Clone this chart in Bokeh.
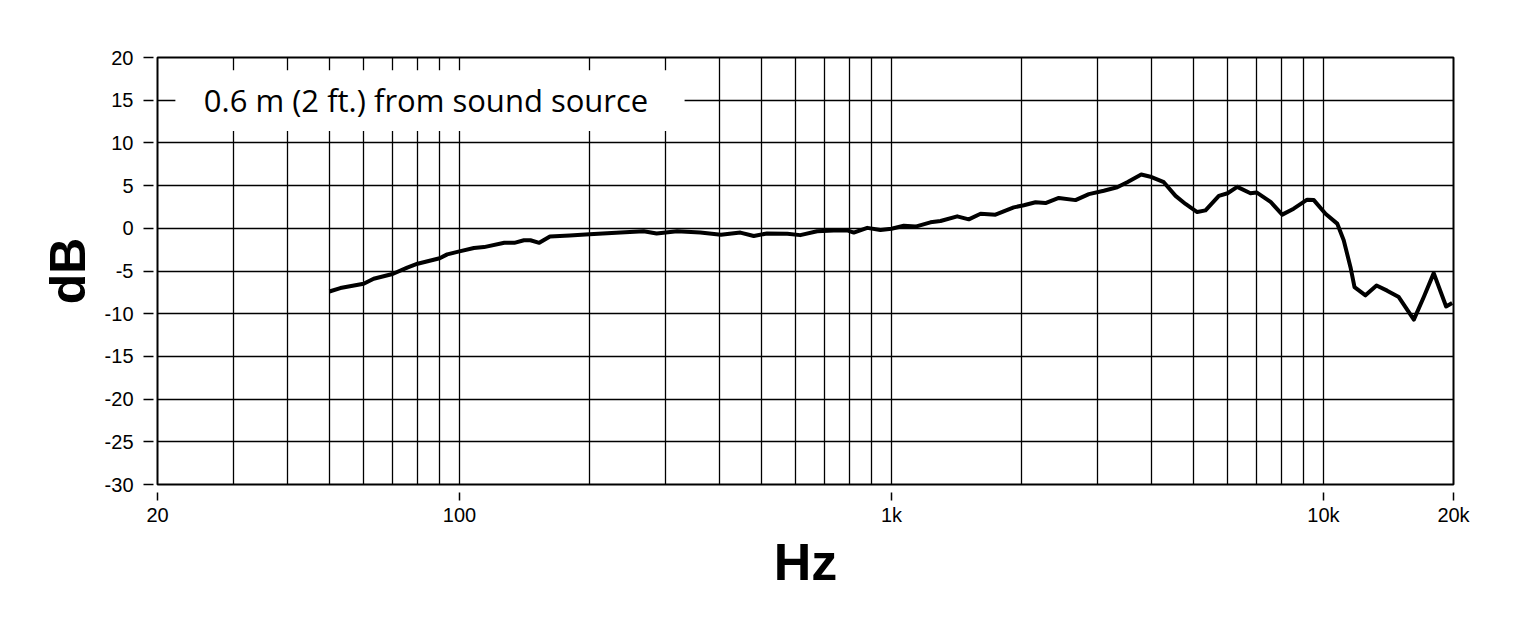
from bokeh.plotting import figure
from bokeh.models import Range1d, FixedTicker, BoxAnnotation, Label
from bokeh.embed import file_html
from bokeh.resources import INLINE

# ---- data ----
freq_hz = [50, 53, 57, 60, 63.3, 70, 75.7, 80, 90, 93.7, 100, 108, 114, 127, 134, 141, 146, 153,
           162, 180, 200, 236, 267, 286, 319, 361, 403, 447, 480, 515, 574, 615, 673, 735, 790,
           818, 879, 943, 1000, 1068, 1137, 1231, 1299, 1420, 1510, 1608, 1741, 1919, 2025,
           2155, 2273, 2440, 2667, 2864, 3101, 3331, 3514, 3786, 4000, 4270, 4546, 4794, 5102,
           5333, 5726, 6000, 6316, 6777, 7000, 7544, 8027, 8532, 9167, 9500, 10110, 10760,
           11140, 11550, 11800, 12510, 13270, 14040, 14940, 16190, 17070, 18000, 19230, 19860]
response_db = [-7.4, -7.0, -6.7, -6.5, -5.9, -5.35, -4.6, -4.15, -3.5, -3.05, -2.7, -2.3, -2.2,
               -1.7, -1.7, -1.4, -1.4, -1.7, -0.95, -0.85, -0.7, -0.5, -0.35, -0.6, -0.35, -0.5,
               -0.75, -0.5, -0.9, -0.6, -0.65, -0.8, -0.35, -0.25, -0.25, -0.5, 0.05, -0.2,
               -0.05, 0.3, 0.2, 0.7, 0.85, 1.4, 1.05, 1.7, 1.6, 2.45, 2.7, 3.05, 2.95, 3.55, 3.3,
               4.0, 4.4, 4.8, 5.4, 6.3, 6.0, 5.4, 3.8, 2.85, 1.9, 2.1, 3.8, 4.1, 4.85, 4.1, 4.2,
               3.1, 1.6, 2.3, 3.35, 3.3, 1.7, 0.55, -1.4, -4.55, -6.9, -7.85, -6.7, -7.3, -8.05,
               -10.7, -8.05, -5.25, -9.15, -8.75]

x_major_ticks = [20, 100, 1000, 10000, 20000]
x_major_labels = {20: "20", 100: "100", 1000: "1k", 10000: "10k", 20000: "20k"}
x_minor_ticks = [30, 40, 50, 60, 70, 80, 90,
                 200, 300, 400, 500, 600, 700, 800, 900,
                 2000, 3000, 4000, 5000, 6000, 7000, 8000, 9000]
y_ticks = [-30, -25, -20, -15, -10, -5, 0, 5, 10, 15, 20]
y_labels = {v: str(v) for v in y_ticks}
note_text = "0.6 m (2 ft.) from sound source"

TICK_FONT = "Liberation Sans"

p = figure(width=1508, height=617, x_axis_type="log",
           x_range=Range1d(20, 20000), y_range=Range1d(-30, 20),
           output_backend="svg", toolbar_location=None,
           min_border_left=157, min_border_right=55, min_border_top=57, min_border_bottom=133)

p.outline_line_color = "black"
p.outline_line_width = 2
p.background_fill_color = "white"
p.border_fill_color = "white"

# x axis
p.xaxis.ticker = FixedTicker(ticks=x_major_ticks, minor_ticks=x_minor_ticks)
p.xaxis.major_label_overrides = x_major_labels
p.xaxis.axis_line_color = None
p.xaxis.major_tick_in = -8
p.xaxis.major_tick_out = 16
p.xaxis.major_tick_line_width = 1.5
p.xaxis.major_tick_line_color = "black"
p.xaxis.minor_tick_line_color = None
p.xaxis.major_label_standoff = 3
p.xaxis.major_label_text_font = TICK_FONT
p.xaxis.major_label_text_font_size = "20px"
p.xaxis.major_label_text_color = "black"
p.xaxis.axis_label = "Hz"
p.xaxis.axis_label_text_font = TICK_FONT
p.xaxis.axis_label_text_font_style = "bold"
p.xaxis.axis_label_text_font_size = "52px"
p.xaxis.axis_label_text_color = "black"
p.xaxis.axis_label_standoff = 4

# y axis
p.yaxis.ticker = FixedTicker(ticks=y_ticks)
p.yaxis.major_label_overrides = y_labels
p.yaxis.axis_line_color = None
p.yaxis.major_tick_in = -4
p.yaxis.major_tick_out = 14
p.yaxis.major_tick_line_width = 1.5
p.yaxis.major_tick_line_color = "black"
p.yaxis.minor_tick_line_color = None
p.yaxis.major_label_standoff = 10
p.yaxis.major_label_text_font = TICK_FONT
p.yaxis.major_label_text_font_size = "20px"
p.yaxis.major_label_text_color = "black"
p.yaxis.axis_label = "dB"
p.yaxis.axis_label_text_font = TICK_FONT
p.yaxis.axis_label_text_font_style = "bold"
p.yaxis.axis_label_text_font_size = "50px"
p.yaxis.axis_label_text_color = "black"
p.yaxis.axis_label_standoff = 6

# grids
p.xgrid.grid_line_color = "black"
p.xgrid.grid_line_width = 1.3
p.xgrid.minor_grid_line_color = "black"
p.xgrid.minor_grid_line_width = 1.3
p.ygrid.grid_line_color = "black"
p.ygrid.grid_line_width = 1.3

# white box behind the note
p.add_layout(BoxAnnotation(left=22, right=332, bottom=11.4, top=18.5,
                           fill_color="white", fill_alpha=1.0, line_alpha=0, level="underlay"))
p.add_layout(Label(x=25.6, y=15, text=note_text, text_font="Open Sans",
                   text_font_size="31px", text_color="black",
                   text_baseline="middle", text_align="left"))

p.line(freq_hz, response_db, line_color="black", line_width=4, line_join="round")

open("out.html", "w").write(file_html(p, INLINE))
